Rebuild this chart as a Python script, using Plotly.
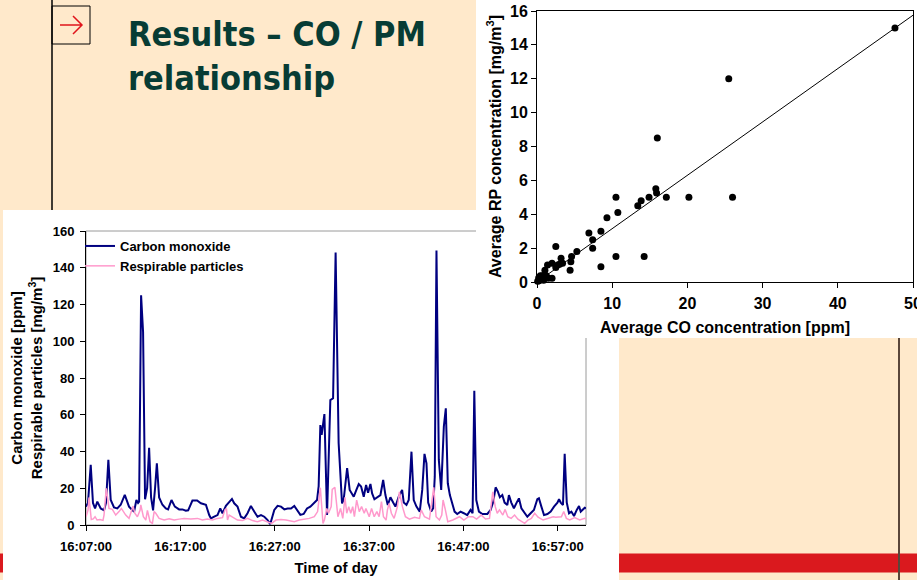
import pandas as pd
import plotly.graph_objects as go

W, H = 917, 580

# ---------------- time series data (minutes after 16:07:00) ----------------
co_minutes = [0.00, 0.21, 0.50, 0.74, 0.96, 1.20, 1.56, 1.91, 2.12, 2.37,
              2.62, 2.97, 3.32, 3.68, 4.11, 4.56, 4.92, 5.10, 5.34, 5.52,
              5.63, 5.84, 6.05, 6.26, 6.48, 6.69, 6.90, 7.11, 7.32, 7.51,
              7.75, 8.10, 8.46, 8.70, 9.06, 9.42, 9.87, 10.22, 10.58, 10.83,
              11.28, 11.78, 12.18, 12.71, 13.06, 13.24, 13.59, 13.94, 14.23, 14.47,
              14.83, 15.18, 15.47, 15.71, 16.06, 16.42, 16.77, 17.12, 17.48, 17.83,
              18.18, 18.55, 18.90, 19.25, 19.53, 19.96, 20.31, 20.67, 21.02, 21.37,
              21.73, 22.08, 22.40, 22.72, 23.07, 23.43, 23.78, 24.13, 24.49, 24.66,
              24.84, 24.98, 25.11, 25.27, 25.55, 25.90, 26.19, 26.46, 26.78, 27.14,
              27.31, 27.68, 27.95, 28.21, 28.38, 28.66, 28.91, 29.16, 29.44, 29.69,
              29.90, 30.15, 30.33, 30.57, 30.86, 31.21, 31.50, 31.74, 31.99, 32.27,
              32.56, 32.80, 33.15, 33.51, 33.68, 33.97, 34.21, 34.50, 34.74, 35.03,
              35.38, 35.64, 35.88, 36.09, 36.27, 36.59, 36.80, 36.97, 37.15, 37.40,
              37.65, 37.93, 38.14, 38.35, 38.57, 38.82, 39.07, 39.35, 39.70, 40.05,
              40.41, 40.76, 40.98, 41.16, 41.37, 41.65, 42.01, 42.54, 42.89, 43.17,
              43.42, 43.66, 43.87, 44.13, 44.37, 44.66, 44.83, 45.08, 45.36, 45.65,
              45.89, 46.15, 46.42, 46.78, 47.13, 47.48, 47.84, 48.01, 48.27, 48.55,
              48.91, 49.26, 49.61, 49.97, 50.14, 50.32, 50.56, 50.74, 50.96, 51.20,
              51.45, 51.73, 52.02, 52.26, 52.44, 52.62, 52.87, 53.00]
co_ppm = [10, 12, 32.7, 12, 9, 12.7, 9, 8, 12, 35.5,
          13.6, 9.6, 9, 11, 16.4, 10, 8, 7.3, 13.6, 12,
          12.7, 125, 105, 14, 20, 42, 15, 8, 20, 33.6,
          15, 11, 9, 8.5, 13.6, 10, 8.5, 8.5, 7.8, 8,
          13.3, 13.3, 11.8, 11, 5.4, 3.6, 4.5, 5.4, 9, 6.4,
          10.4, 12.7, 14.2, 11.8, 10, 4.5, 3.6, 6.4, 10.4, 7.3,
          4.5, 5.4, 4.5, 2.7, 0.5, 8.2, 10.4, 10, 8.5, 9,
          9, 10.4, 7.8, 5.5, 6, 9, 10, 11.8, 13.6, 21,
          54.4, 49, 55, 60.4, 5.4, 68, 69, 148.3, 44.5, 11.8,
          13.6, 30.9, 19.1, 17.2, 15.4, 19.1, 22.3, 20.9, 15.4, 21.8,
          17.6, 22.3, 17.2, 14, 15.1, 16.3, 24.5, 16.3, 10.9, 15.1,
          12.2, 10, 15.4, 19.1, 12.2, 10.9, 13.6, 39.9, 13.6, 10,
          7.3, 19.1, 38.7, 33.6, 12.2, 7.3, 9.1, 26.3, 149.4, 35.4,
          19.1, 53.5, 63.5, 22.7, 16.3, 11.8, 7.3, 6, 7.3, 6.4,
          5.4, 8.2, 6.4, 73.1, 13.6, 7.3, 6, 6, 8.2, 12.7,
          20.5, 18.1, 15.1, 16.3, 12.2, 10.9, 16.3, 12.2, 9.1, 12.2,
          14.5, 9.1, 7.3, 4.5, 6.4, 8.2, 14, 14.5, 10, 5.4,
          6, 7.3, 10, 12.2, 14, 12.2, 10.9, 38.7, 12.2, 6.4,
          7.3, 4.9, 8.2, 10.3, 7.3, 8.2, 9.4, 9.1]

rp_minutes = [0.00, 0.21, 0.32, 0.56, 0.77, 0.96, 1.17, 1.48, 1.80, 1.91,
              2.15, 2.44, 2.79, 3.15, 3.50, 3.75, 4.21, 4.56, 4.99, 5.17,
              5.45, 5.73, 5.81, 6.08, 6.34, 6.51, 6.79, 7.04, 7.22, 7.40,
              7.75, 8.28, 8.81, 9.34, 9.87, 10.40, 11.11, 11.81, 12.34, 12.87,
              13.40, 13.94, 14.47, 14.72, 14.89, 15.00, 15.18, 15.53, 16.06, 16.59,
              17.12, 17.65, 18.18, 18.71, 19.25, 19.67, 20.14, 20.67, 21.20, 21.73,
              22.08, 22.61, 23.14, 23.67, 24.20, 24.55, 24.84, 25.02, 25.12, 25.27,
              25.52, 25.70, 25.99, 26.10, 26.38, 26.52, 26.70, 26.98, 27.22, 27.45,
              27.64, 27.85, 28.06, 28.27, 28.45, 28.69, 28.97, 29.21, 29.49, 29.67,
              30.02, 30.27, 30.55, 30.83, 31.07, 31.32, 31.53, 31.81, 31.95, 32.13,
              32.37, 32.66, 33.01, 33.22, 33.54, 33.86, 34.29, 34.82, 35.35, 35.53,
              35.88, 36.41, 36.86, 37.11, 37.46, 37.71, 37.85, 38.06, 38.35, 38.88,
              39.59, 40.05, 40.55, 41.01, 41.40, 41.90, 42.35, 42.77, 43.12, 43.38,
              43.59, 43.83, 44.18, 44.43, 44.71, 45.07, 45.43, 45.78, 46.15, 46.50,
              46.85, 47.21, 47.56, 47.92, 48.45, 48.98, 49.51, 49.79, 50.39, 50.64,
              50.92, 51.27, 51.80, 52.33, 52.87, 53.00]
rp_mgm3 = [4.5, 8, 15, 3, 3.3, 4.5, 2.7, 3, 2.5, 5.4,
           20, 9, 8.5, 5.4, 7.3, 9, 5.4, 3.6, 10.3, 6.4,
           4.5, 8, 11, 4.5, 2.7, 8, 1.8, 0.9, 7.3, 6.4,
           3.6, 2.7, 3.4, 2.7, 3.2, 3.6, 3.3, 3.6, 2.7, 3.3,
           2.7, 3.6, 4, 8.2, 9, 2.7, 5.4, 4.5, 2.7, 2.4,
           3.6, 2.4, 1.8, 2.7, 1.8, 0.9, 2.7, 3, 2.7, 2.4,
           1.8, 2.7, 3, 3.6, 4.5, 7.3, 20.3, 10, 0.9, 2.7,
           9, 6.4, 10, 19.4, 20.5, 13.6, 4.5, 9, 3.6, 15,
           6.4, 10, 6.4, 10, 4.5, 13.5, 7.3, 10, 6.4, 9,
           4.5, 9, 4.5, 7.3, 4.5, 12.7, 4.5, 2.7, 8.2, 11.8,
           6.4, 3.6, 10, 18, 10, 4.5, 3.2, 4.2, 3.6, 8.2,
           4.5, 3.2, 20.5, 4.5, 2.7, 5.4, 13.6, 9, 1.8, 2.7,
           4.5, 2.7, 4.5, 4.5, 3.2, 5.4, 3.3, 3.6, 18, 10,
           6.4, 8.2, 5.4, 8.5, 4.5, 3.6, 5.4, 3.2, 1.8, 0.9,
           2.7, 3.6, 6.4, 4.2, 2.7, 3.6, 4.5, 4.2, 4.5, 7.3,
           3.6, 2.7, 4, 2.7, 3.6, 3.2]

start_time = "2000-01-01 16:07:00"
end_time = "2000-01-01 17:00:00"
time_tick_labels = ["16:07:00", "16:17:00", "16:27:00", "16:37:00", "16:47:00", "16:57:00"]

# ---------------- scatter data ----------------
avg_co_ppm = [47.6, 25.5, 16.0, 15.8, 15.9, 14.9, 13.85, 13.4, 17.2, 20.2,
              26.0, 10.5, 10.75, 9.3, 8.5, 6.9, 7.4, 7.4, 5.3, 4.6,
              4.5, 4.4, 10.5, 14.25, 8.5, 2.5, 3.2, 3.4, 3.0, 2.75,
              2.5, 2.0, 1.4, 1.05, 2.0, 0.09, 0.22, 0.44, 0.71, 0.97,
              1.24, 1.5, 0.27, 0.88]
avg_rp_mgm3 = [15.0, 12.0, 8.5, 5.5, 5.25, 5.0, 4.8, 4.5, 5.0, 5.0,
               5.0, 5.0, 4.1, 3.8, 3.0, 2.9, 2.5, 2.0, 1.8, 1.5,
               1.2, 0.7, 1.5, 1.5, 0.9, 2.1, 1.4, 1.1, 1.05, 1.0,
               0.85, 1.1, 1.0, 0.7, 0.22, 0.04, 0.24, 0.37, 0.37, 0.28,
               0.37, 0.22, 0.08, 0.1]
trend_slope = 0.315
trend_x = [0, 50]

# ---------------- build ----------------
base = pd.Timestamp(start_time)
co_t = base + pd.to_timedelta(co_minutes, unit="m")
rp_t = base + pd.to_timedelta(rp_minutes, unit="m")
tick_vals = [pd.Timestamp("2000-01-01 " + s) for s in time_tick_labels]
trend_y = [trend_slope * v for v in trend_x]

FONT = "Arial, Liberation Sans, sans-serif"
TITLE_FONT = "DejaVu Sans Condensed, DejaVu Sans, sans-serif"
PEACH = "#FFE9CB"


def px(x):
    return x / W


def py(y):
    return 1 - y / H


fig = go.Figure()
fig.add_trace(go.Scatter(x=co_t, y=co_ppm, mode="lines", name="<b>Carbon monoxide</b>",
                         line=dict(color="#000080", width=2), xaxis="x", yaxis="y"))
fig.add_trace(go.Scatter(x=rp_t, y=rp_mgm3, mode="lines", name="<b>Respirable particles</b>",
                         line=dict(color="#FF99CC", width=1.5), xaxis="x", yaxis="y"))
fig.add_trace(go.Scatter(x=trend_x, y=trend_y, mode="lines", showlegend=False,
                         line=dict(color="black", width=1), xaxis="x2", yaxis="y2"))
fig.add_trace(go.Scatter(x=avg_co_ppm, y=avg_rp_mgm3, mode="markers", showlegend=False,
                         marker=dict(color="black", size=7), cliponaxis=False,
                         xaxis="x2", yaxis="y2"))

shapes = [
    dict(type="rect", xref="paper", yref="paper", x0=px(3), x1=px(619), y0=py(580), y1=py(210),
         fillcolor="white", line=dict(width=0), layer="below"),
    dict(type="rect", xref="paper", yref="paper", x0=px(86), x1=px(586), y0=py(525), y1=py(231),
         fillcolor="rgba(0,0,0,0)", line=dict(color="#9a9a9a", width=1), layer="below"),
    dict(type="rect", xref="paper", yref="paper", x0=px(476), x1=px(917), y0=py(338), y1=py(0),
         fillcolor="white", line=dict(width=0), layer="below"),
    dict(type="line", xref="paper", yref="paper", x0=px(52), x1=px(52), y0=py(210), y1=py(0),
         line=dict(color="black", width=1.5), layer="below"),
    dict(type="rect", xref="paper", yref="paper", x0=px(52), x1=px(90), y0=py(44), y1=py(6),
         line=dict(color="black", width=1), fillcolor="rgba(0,0,0,0)", layer="below"),
    dict(type="path", xref="paper", yref="paper",
         path=f"M {px(60)} {py(25)} L {px(82)} {py(25)} M {px(73)} {py(16)} L {px(82)} {py(25)} L {px(73)} {py(34)}",
         line=dict(color="#E0141B", width=1.5), layer="below"),
    dict(type="rect", xref="paper", yref="paper", x0=px(619), x1=px(917), y0=py(572.5), y1=py(553.5),
         fillcolor="#DA191E", line=dict(width=0), layer="below"),
    dict(type="rect", xref="paper", yref="paper", x0=px(0), x1=px(3), y0=py(572.5), y1=py(553.5),
         fillcolor="#DA191E", line=dict(width=0), layer="below"),
    dict(type="line", xref="paper", yref="paper", x0=px(899), x1=px(899), y0=py(580), y1=py(338),
         line=dict(color="#5A463A", width=2), layer="above"),
]

axis_common = dict(showline=True, linecolor="black", linewidth=1, showgrid=False, zeroline=False,
                   ticks="outside", ticklen=5, tickcolor="black", automargin=False)

fig.update_layout(
    template="none",
    width=W, height=H, autosize=False,
    margin=dict(l=0, r=0, t=0, b=0, pad=0, autoexpand=False),
    paper_bgcolor=PEACH, plot_bgcolor="rgba(0,0,0,0)",
    font=dict(family=FONT, color="black"),
    shapes=shapes,
    showlegend=True,
    legend=dict(x=px(80), y=py(231), xanchor="left", yanchor="top", bgcolor="rgba(0,0,0,0)",
                borderwidth=0, font=dict(size=13, family=FONT, color="black"), tracegroupgap=0),
    xaxis=dict(domain=[px(86), px(586)], anchor="y", type="date", range=[start_time, end_time],
               tickvals=tick_vals, ticktext=time_tick_labels, ticklabelstandoff=4,
               tickfont=dict(size=13, weight="bold"),
               title=dict(text="Time of day", font=dict(size=15, weight="bold"), standoff=9),
               **axis_common),
    yaxis=dict(domain=[py(525), py(231)], anchor="x", range=[0, 160], dtick=20,
               ticklabelstandoff=3,
               tickfont=dict(size=13, weight="bold"),
               title=dict(text="Carbon monoxide [ppm]<br>Respirable particles [mg/m<sup>3</sup>]",
                          font=dict(size=15, weight="bold"), standoff=6),
               **axis_common),
    xaxis2=dict(domain=[px(537), px(913)], anchor="y2", range=[0, 50], dtick=10, mirror=True,
                tickfont=dict(size=16, weight="bold"), ticklabelstandoff=2,
                ticklabeloverflow="allow",
                title=dict(text="Average CO concentration [ppm]", font=dict(size=16, weight="bold"), standoff=10),
                **axis_common),
    yaxis2=dict(domain=[py(282), py(11)], anchor="x2", range=[0, 16], dtick=2, mirror=True,
                tickfont=dict(size=16, weight="bold"),
                title=dict(text="Average RP concentration [mg/m<sup>3</sup>]", font=dict(size=16, weight="bold"), standoff=4),
                **axis_common),
    annotations=[
        dict(text="Results – CO / PM<br>relationship", xref="paper", yref="paper",
             x=px(126), y=py(12), xanchor="left", yanchor="top", showarrow=False, align="left",
             font=dict(family=TITLE_FONT, size=34, weight="bold", color="#073C34")),
    ],
)

fig.write_html("out.html", config={"displayModeBar": False},
               post_script="document.body.style.margin='0px';")
